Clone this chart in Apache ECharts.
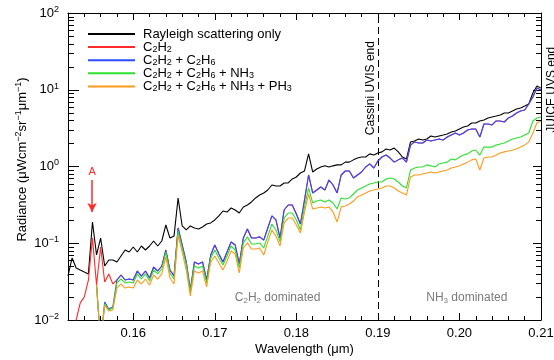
<!DOCTYPE html>
<html><head><meta charset="utf-8">
<script src="https://cdn.jsdelivr.net/npm/echarts@6/dist/echarts.min.js"></script>
<style>html,body{margin:0;padding:0;background:#fff}#c{width:554px;height:360px}</style>
</head><body><div id="c"></div>
<script>
const wavelength = [0.1520,0.1525,0.1530,0.1535,0.1540,0.1545,0.1550,0.1555,0.1560,0.1565,0.1570,0.1575,0.1580,0.1585,0.1590,0.1595,0.1600,0.1605,0.1610,0.1615,0.1620,0.1625,0.1630,0.1635,0.1640,0.1645,0.1650,0.1655,0.1660,0.1665,0.1670,0.1675,0.1680,0.1685,0.1690,0.1695,0.1700,0.1705,0.1710,0.1715,0.1720,0.1725,0.1730,0.1735,0.1740,0.1745,0.1750,0.1755,0.1760,0.1765,0.1770,0.1775,0.1780,0.1785,0.1790,0.1795,0.1800,0.1805,0.1810,0.1815,0.1820,0.1825,0.1830,0.1835,0.1840,0.1845,0.1850,0.1855,0.1860,0.1865,0.1870,0.1875,0.1880,0.1885,0.1890,0.1895,0.1900,0.1905,0.1910,0.1915,0.1920,0.1925,0.1930,0.1935,0.1940,0.1945,0.1950,0.1955,0.1960,0.1965,0.1970,0.1975,0.1980,0.1985,0.1990,0.1995,0.2000,0.2005,0.2010,0.2015,0.2020,0.2025,0.2030,0.2035,0.2040,0.2045,0.2050,0.2055,0.2060,0.2065,0.2070,0.2075,0.2080,0.2085,0.2090,0.2095,0.2100];

const rayleigh = [0.0377,0.0643,0.0476,0.0448,0.0422,0.0398,0.189,0.0703,0.117,0.0505,
0.0605,0.0605,0.057,0.0682,0.0817,0.0769,0.0894,0.0769,0.0921,0.0817,
0.0921,0.107,0.0921,0.107,0.173,0.117,0.124,0.389,0.168,0.149,
0.168,0.158,0.153,0.163,0.178,0.184,0.201,0.227,0.263,0.255,
0.288,0.271,0.248,0.297,0.315,0.345,0.389,0.425,0.452,0.494,
0.574,0.557,0.557,0.610,0.610,0.688,0.730,0.823,0.874,1.46,
0.848,0.928,0.985,1.02,0.985,1.02,1.05,1.05,1.14,1.14,
1.22,1.29,1.33,1.33,1.46,1.41,1.50,1.55,1.69,1.64,
1.74,1.55,1.33,1.25,2.09,2.15,2.28,2.21,2.28,2.50,
2.42,2.50,2.57,2.65,2.81,2.90,3.08,3.27,3.37,3.69,
3.69,3.92,4.04,4.29,4.42,4.55,4.69,4.98,4.98,5.28,
5.61,5.79,6.14,6.52,9.07,11.2,10.5];

const c2h2 = [0.004,0.006,0.010,0.0167,0.020,0.033,0.117,0.0286,0.0894,0.0313,
0.0398,0.0295,0.0332,0.0386,0.0332,0.0342,0.0332,0.0435,0.0374,0.0435,
0.0353,0.049,0.0435,0.0505,0.0817,0.0448,0.0374,0.158,0.0949,0.057,
0.0246,0.057,0.0537,0.057,0.0332,0.0703,0.0949,0.0724,0.057,0.0769,
0.104,0.0949,0.0537,0.117,0.153,0.117,0.117,0.121,0.110,0.158,
0.227,0.201,0.117,0.271,0.315,0.315,0.240,0.178,0.366,0.775,
0.452,0.494,0.541,0.494,0.667,0.574,0.452,0.775,0.874,0.874,
0.708,0.775,0.848,0.985,1.08,0.956,1.18,1.33,1.41,1.29,
1.14,1.22,1.29,1.14,1.90,2.09,2.02,2.02,2.21,2.15,
2.21,2.28,2.21,2.42,2.57,2.73,2.57,2.73,2.99,3.08,
3.08,2.42,3.58,3.58,3.48,3.92,3.92,3.80,4.29,4.55,
4.98,5.28,5.45,6.52,8.05,10.5,9.93];

const c2h2C2h6 = [null,null,null,null,null,null,null,0.0286,0.005,0.0172,
0.0139,0.0148,0.0332,0.0386,0.0332,0.0342,0.0332,0.0435,0.0374,0.0435,
0.0353,0.049,0.0435,0.0505,0.0817,0.0448,0.0374,0.158,0.0949,0.057,
0.0246,0.057,0.0537,0.057,0.0332,0.0703,0.0949,0.0724,0.057,0.0769,
0.104,0.0949,0.0537,0.117,0.153,0.117,0.117,0.121,0.110,0.158,
0.227,0.201,0.117,0.271,0.315,0.315,0.240,0.178,0.366,0.775,
0.452,0.494,0.541,0.494,0.667,0.574,0.452,0.775,0.874,0.874,
0.708,0.775,0.848,0.985,1.08,0.956,1.18,1.33,1.41,1.29,
1.14,1.22,1.29,1.14,1.90,2.09,2.02,2.02,2.21,2.15,
2.21,2.28,2.21,2.42,2.57,2.73,2.57,2.73,2.99,3.08,
3.08,2.42,3.58,3.58,3.48,3.92,3.92,3.80,4.29,4.55,
4.98,5.28,5.45,6.52,8.05,10.5,9.93];

const withNH3 = [null,null,null,null,null,null,null,0.0286,0.005,0.0162,
0.0135,0.0143,0.0304,0.0342,0.0304,0.0313,0.0304,0.0398,0.0342,0.0398,
0.0322,0.0448,0.0398,0.0462,0.0769,0.041,0.0342,0.145,0.0867,0.0521,
0.0232,0.0505,0.0476,0.0505,0.0304,0.0643,0.0817,0.0643,0.0521,0.0682,
0.0921,0.0817,0.0476,0.101,0.121,0.0978,0.0978,0.101,0.0867,0.124,
0.178,0.149,0.104,0.213,0.248,0.248,0.201,0.149,0.297,0.525,
0.335,0.355,0.366,0.345,0.366,0.335,0.280,0.389,0.377,0.389,
0.438,0.494,0.525,0.557,0.592,0.610,0.628,0.628,0.688,0.708,
0.688,0.628,0.557,0.525,0.900,0.956,0.985,0.985,1.05,1.02,
0.985,1.08,1.11,1.14,1.25,1.22,1.33,1.41,1.46,1.59,
1.64,1.41,1.79,1.79,1.79,1.90,1.96,2.02,2.15,2.28,
2.35,2.42,2.57,2.73,3.92,4.29,4.42];

const withPH3 = [null,null,null,null,null,null,null,0.0286,0.005,0.0157,
0.0131,0.0135,0.0261,0.0295,0.0261,0.0269,0.0261,0.0332,0.0295,0.0342,
0.0286,0.0386,0.0342,0.0398,0.0662,0.0353,0.0295,0.128,0.0769,0.0448,
0.0206,0.0435,0.041,0.0435,0.0269,0.057,0.0682,0.0553,0.0448,0.0587,
0.0793,0.0724,0.041,0.0867,0.101,0.0841,0.0841,0.0867,0.0703,0.104,
0.149,0.124,0.0921,0.184,0.213,0.213,0.173,0.136,0.255,0.438,
0.280,0.288,0.297,0.288,0.297,0.255,0.189,0.297,0.306,0.325,
0.355,0.401,0.425,0.452,0.480,0.494,0.509,0.525,0.557,0.557,
0.525,0.480,0.452,0.425,0.730,0.775,0.775,0.799,0.823,0.848,
0.823,0.848,0.874,0.900,0.956,0.985,1.02,1.08,1.14,1.22,
1.25,0.900,1.29,1.33,1.33,1.41,1.50,1.55,1.59,1.64,
1.69,1.79,1.90,2.09,2.73,3.69,3.92];

const seriesNames = ['Rayleigh scattering only','C2H2','C2H2 + C2H6','C2H2 + C2H6 + NH3','C2H2 + C2H6 + NH3 + PH3'];
const legendLabels = ['Rayleigh scattering only','C{s|2}H{s|2}','C{s|2}H{s|2} + C{s|2}H{s|6}','C{s|2}H{s|2} + C{s|2}H{s|6} + NH{s|3}','C{s|2}H{s|2} + C{s|2}H{s|6} + NH{s|3} + PH{s|3}'];
const yMinorTicks = [0.02,0.03,0.04,0.05,0.06,0.07,0.08,0.09,0.2,0.3,0.4,0.5,0.6,0.7,0.8,0.9,2,3,4,5,6,7,8,9,20,30,40,50,60,70,80,90];
const xMin = 0.152, xMax = 0.21, yMin = 0.01, yMax = 100;

const FONT = 'Liberation Sans';
const colors = ['#000000','#ff2a2a','#2a4cff','#2ee02e','#ff9a1a'];
const valueSets = [rayleigh, c2h2, c2h2C2h6, withNH3, withPH3];
const toData = arr => wavelength.map((w,i) => [w, arr[i] == null ? '-' : arr[i]]);

const chart = echarts.init(document.getElementById('c'), null, {renderer:'canvas'});

const lineSeries = valueSets.map((arr, k) => ({
  name: seriesNames[k], type: 'line', data: toData(arr), symbol: 'none', showSymbol: false,
  xAxisIndex: 0, yAxisIndex: 0, clip: true, animation: false, z: 3 + k,
  lineStyle: {color: colors[k], width: 1.1}, itemStyle: {color: colors[k]},
  emphasis: {disabled: true}
}));

lineSeries[0].markLine = {
  silent: true, symbol: ['none','none'], animation: false,
  lineStyle: {color: '#000', width: 1, type: [7,4]},
  label: {show: false},
  data: [{xAxis: 0.19}]
};
const gray = '#7a7a7a';
const subRich = c => ({s: {fontSize: 8, lineHeight: 6, verticalAlign: 'bottom', color: c, fontFamily: FONT}});
lineSeries[0].markPoint = {
  silent: true, symbol: 'circle', symbolSize: 0, animation: false,
  label: {show: true, position: 'inside', fontFamily: FONT},
  data: [
    {coord: [0.1777, 0.0194], label: {formatter: 'C{s|2}H{s|2} dominated', color: gray, fontSize: 12, lineHeight: 14, rich: subRich(gray)}},
    {coord: [0.2009, 0.0194], label: {formatter: 'NH{s|3} dominated', color: gray, fontSize: 12, lineHeight: 14, rich: subRich(gray)}},
    {coord: [0.1891, 10.5], label: {formatter: 'Cassini UVIS end', rotate: 90, color: '#000', fontSize: 12}},
    {coord: [0.15495, 0.85], label: {formatter: 'A', color: '#ff2a2a', fontSize: 11}}
  ]
};
lineSeries[1].markLine = {
  silent: true, animation: false, symbolSize: [7, 9],
  lineStyle: {color: '#ff2a2a', width: 1.5, type: 'solid'},
  label: {show: false},
  data: [[{coord: [0.15495, 0.667], symbol: 'none'}, {coord: [0.15495, 0.255], symbol: 'arrow'}]]
};

const minorTickSeries = {
  type: 'custom', name: 'minorTicks', xAxisIndex: 0, yAxisIndex: 0, silent: true, clip: false, animation: false, z: 10,
  data: yMinorTicks.map(v => [xMin, v]),
  renderItem: (params, api) => {
    const v = api.value(1);
    const a = api.coord([xMin, v]);
    const b = api.coord([xMax, v]);
    const y = Math.round(a[1]) + 0.5;
    return {type: 'group', children: [
      {type: 'line', shape: {x1: a[0], y1: y, x2: a[0] + 6, y2: y}, style: {stroke: '#000', lineWidth: 1}},
      {type: 'line', shape: {x1: b[0] - 5, y1: y, x2: b[0], y2: y}, style: {stroke: '#000', lineWidth: 1}}
    ]};
  }
};

const axisLineStyle = {show: true, lineStyle: {color: '#000', width: 1}};
const supRich = {sup: {fontSize: 9, lineHeight: 7, verticalAlign: 'top', fontFamily: FONT, color: '#000'}};

const option = {
  backgroundColor: '#fff',
  animation: false,
  textStyle: {fontFamily: FONT},
  grid: {left: 68, right: 13, top: 13, bottom: 40, containLabel: false, outerBoundsMode: 'none'},
  legend: {
    orient: 'vertical', left: 88, top: 27, padding: 0, itemWidth: 47, itemHeight: 2, itemGap: -0.9,
    icon: 'rect', selectedMode: false, data: seriesNames,
    formatter: name => legendLabels[seriesNames.indexOf(name)],
    textStyle: {fontSize: 13, fontFamily: FONT, color: '#000', lineHeight: 14, padding: [0, 0, 0, 3],
      rich: {s: {fontSize: 9, lineHeight: 8, verticalAlign: 'bottom', fontFamily: FONT, color: '#000'}}}
  },
  xAxis: [
    {type: 'value', position: 'bottom', min: xMin, max: xMax, splitLine: {show: false},
     axisLine: axisLineStyle, axisTick: {show: true, inside: true, length: 7, lineStyle: {color: '#000'}},
     axisLabel: {show: true, showMinLabel: false, fontSize: 13, color: '#000', margin: 7, fontFamily: FONT, formatter: v => v.toFixed(2)},
     name: 'Wavelength (μm)', nameLocation: 'middle', nameGap: 23, nameMoveOverlap: false,
     nameTextStyle: {fontSize: 13, color: '#000', fontFamily: FONT}},
    {type: 'value', position: 'bottom', min: xMin, max: xMax, interval: 0.002, splitLine: {show: false},
     axisLine: {show: false}, axisTick: {show: true, inside: true, length: 4, lineStyle: {color: '#000'}},
     axisLabel: {show: false}},
    {type: 'value', position: 'top', min: xMin, max: xMax, splitLine: {show: false},
     axisLine: axisLineStyle, axisTick: {show: true, inside: true, length: 7, lineStyle: {color: '#000'}},
     axisLabel: {show: false}},
    {type: 'value', position: 'top', min: xMin, max: xMax, interval: 0.002, splitLine: {show: false},
     axisLine: {show: false}, axisTick: {show: true, inside: true, length: 4, lineStyle: {color: '#000'}},
     axisLabel: {show: false}}
  ],
  yAxis: [
    {type: 'log', logBase: 10, position: 'left', min: yMin, max: yMax, splitLine: {show: false},
     axisLine: axisLineStyle, axisTick: {show: true, inside: true, length: 11, lineStyle: {color: '#000'}},
     axisLabel: {show: true, fontSize: 13, color: '#000', margin: 9, fontFamily: FONT, lineHeight: 16,
       formatter: v => { const e = Math.round(Math.log10(v)); return '10{sup|' + (e < 0 ? '−' + (-e) : e) + '}'; },
       rich: supRich},
     name: 'Radiance (μWcm{sup|−2}sr{sup|−1}μm{sup|−1})', nameLocation: 'middle', nameGap: 38, nameRotate: 90, nameMoveOverlap: false,
     nameTextStyle: {fontSize: 13, color: '#000', fontFamily: FONT, lineHeight: 16, padding: [0, 0, 0, 14], rich: supRich}},
    {type: 'log', logBase: 10, position: 'right', min: yMin, max: yMax, splitLine: {show: false},
     axisLine: axisLineStyle, axisTick: {show: true, inside: true, length: 8, lineStyle: {color: '#000'}},
     axisLabel: {show: false}}
  ],
  series: lineSeries.concat([minorTickSeries])
};
chart.setOption(option);

// "JUICE UVS end" label just outside the right edge of the plot, anchored via the axes
const juice = chart.convertToPixel({xAxisIndex: 0, yAxisIndex: 0}, [xMax, 10]);
chart.setOption({graphic: [{
  type: 'text', x: juice[0] + 11, y: juice[1], rotation: Math.PI / 2, silent: true,
  style: {text: 'JUICE UVS end', fontFamily: FONT, fontSize: 12, fill: '#000', align: 'center', verticalAlign: 'middle'}
}]});
</script>
</body></html>
